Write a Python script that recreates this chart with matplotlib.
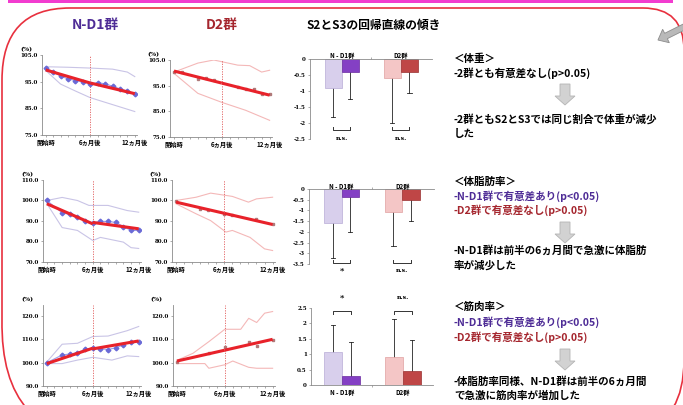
import matplotlib
matplotlib.use('Agg')
import matplotlib.pyplot as plt
import numpy as np
from matplotlib.path import Path
from matplotlib.patches import PathPatch, FancyArrow

plt.rcParams['font.family'] = ['Noto Sans CJK JP', 'DejaVu Sans']

W, H = 683, 405
fig = plt.figure(figsize=(6.83, 4.05), dpi=100)

# ---------------- data ----------------
month_labels = ['開始時', '6ヵ月後', '12ヵ月後']

# Row 1: 体重 (body weight, % of start)
w_nd1_m = [0, 1, 2, 3, 4, 5, 6, 7, 8, 9, 10, 11, 12]
w_nd1_v = [100, 98.8, 97.0, 96.1, 95.4, 95.0, 94.2, 94.6, 94.2, 93.3, 92.3, 91.5, 90.4]
w_nd1_up_m = [0, 3, 6, 9, 11, 12]
w_nd1_up_v = [100.6, 100.4, 100.1, 99.7, 98.6, 96.9]
w_nd1_lo_m = [0, 2, 4, 6, 9, 12]
w_nd1_lo_v = [99.2, 94.1, 91.5, 89.0, 86.4, 83.8]
w_nd1_reg_m = [[0, 6], [6, 12]]
w_nd1_reg_v = [[99.4, 94.5], [94.5, 90.5]]

w_d2_m = [0, 1, 3, 4, 5, 8, 9, 10, 11, 12]
w_d2_v = [100.5, 100.2, 97.6, 97.8, 97.2, 94.4, 93.6, 93.8, 91.6, 91.6]
w_d2_up_m = [0, 3, 5, 8, 9.5, 11, 12]
w_d2_up_v = [100.3, 103.8, 105.0, 103.0, 102.8, 100.3, 101.0]
w_d2_lo_m = [0, 3, 6, 9, 12]
w_d2_lo_v = [99.8, 92.0, 88.5, 85.4, 81.5]
w_d2_reg_m = [[0, 6], [6, 12]]
w_d2_reg_v = [[100.7, 96.0], [96.0, 91.3]]

# Row 2: 体脂肪率 (body fat)
f_nd1_m = [0, 2, 3, 4, 5, 6, 7, 8, 9, 10, 11, 12]
f_nd1_v = [100, 94.0, 93.2, 91.9, 90.2, 89.0, 89.8, 89.8, 89.3, 87.3, 85.4, 85.4]
f_nd1_up_m = [0, 2, 4, 5.5, 8, 10.5, 12]
f_nd1_up_v = [100, 101.5, 100, 97.6, 97.6, 95.1, 94.3]
f_nd1_lo_m = [0, 2, 4, 6, 7, 10, 11, 12]
f_nd1_lo_v = [98.5, 86.8, 85.4, 80.5, 82.0, 79.7, 77.0, 76.6]
f_nd1_reg_m = [[0, 6], [6, 12]]
f_nd1_reg_v = [[98.4, 88.6], [89.3, 86.2]]

f_d2_m = [0, 3, 4, 6, 7, 10, 12]
f_d2_v = [99.7, 95.9, 95.6, 93.2, 92.7, 91.2, 88.6]
f_d2_up_m = [0, 2.5, 4.3, 7, 9, 10, 12]
f_d2_up_v = [100, 101.6, 103.6, 102, 99.2, 100.8, 101.6]
f_d2_lo_m = [0, 2.5, 4.3, 6.2, 7, 9.2, 11, 12]
f_d2_lo_v = [98.4, 93.5, 90.2, 84.6, 85.4, 82.0, 76.4, 75.6]
f_d2_reg_m = [[0, 6], [6, 12]]
f_d2_reg_v = [[99.2, 93.75], [93.75, 88.3]]

# Row 3: 筋肉率 (muscle)
m_nd1_m = [0, 2, 3, 4, 5, 6, 7, 8, 9, 10, 11, 12]
m_nd1_v = [100, 103.3, 103.7, 104.3, 105.7, 106.2, 106.0, 105.6, 106.4, 107.6, 109.0, 109.0]
m_nd1_up_m = [0, 2, 4, 6, 8, 10.5, 12]
m_nd1_up_v = [100.3, 107.9, 108.3, 111.2, 111.4, 113.7, 115.5]
m_nd1_lo_m = [0, 2, 4, 6, 8.5, 10.5, 12]
m_nd1_lo_v = [99.6, 99.6, 101.1, 102.3, 101.1, 102.9, 102.6]
m_nd1_reg_m = [[0, 6], [6, 12]]
m_nd1_reg_v = [[99.6, 106.2], [105.9, 109.3]]

m_d2_m = [0, 4, 6, 9, 10, 12]
m_d2_v = [100.4, 104.0, 106.9, 109.0, 107.1, 109.7]
m_d2_up_m = [0, 2, 4, 6, 8, 9, 10, 11, 12]
m_d2_up_v = [101, 104, 109, 114.3, 114.3, 119, 117.2, 121.2, 121.9]
m_d2_lo_m = [0, 3.5, 4, 6, 7, 9, 10, 12]
m_d2_lo_v = [99.6, 99.6, 97.6, 99.1, 100.7, 98.0, 97.6, 97.6]
m_d2_reg_m = [[0, 6], [6, 12]]
m_d2_reg_v = [[100.7, 105.35], [105.35, 110.0]]

# Bar charts: slopes (S2 light, S3 dark) for N-D1 and D2
bar_groups = ['N - D1群', 'D2群']
w_slope = [-0.9, -0.4, -0.6, -0.4]
w_sd = [0.9, 0.85, 1.4, 0.65]
f_slope = [-1.6, -0.35, -1.05, -0.5]
f_sd = [1.6, 1.65, 1.6, 1.0]
m_slope = [1.07, 0.28, 0.9, 0.47]
m_sd = [0.88, 1.1, 1.25, 1.0]
w_sig = ['n.s.', 'n.s.']
f_sig = ['*', 'n.s.']
m_sig = ['*', 'n.s.']

# ---------------- helpers ----------------
def px_axes(x0, y0, x1, y1, z=1):
    ax = fig.add_axes([x0 / W, 1 - y1 / H, (x1 - x0) / W, (y1 - y0) / H])
    ax.set_facecolor('none')
    ax.set_zorder(z)
    return ax

TICKFONT = dict(family='DejaVu Serif', weight='bold', size=4)

def line_panel(box, ylim, yticks, pm, pv, um, uv, lm, lv, rm, rv, group):
    ax = px_axes(*box)
    ax.set_xlim(-0.5, 12.3)
    ax.set_ylim(*ylim)
    for s in ['top', 'right']:
        ax.spines[s].set_visible(False)
    for s in ['left', 'bottom']:
        ax.spines[s].set_color('#8a8a8a')
        ax.spines[s].set_linewidth(0.6)
    ax.set_yticks(yticks)
    ax.set_yticklabels([f'{v:.1f}' for v in yticks], **TICKFONT)
    ax.set_xticks([0, 6, 12])
    ax.set_xticklabels(month_labels, fontsize=4.5, weight='bold')
    ax.set_xticks(range(13), minor=True)
    ax.tick_params(axis='both', which='both', length=1.5, width=0.5, color='#8a8a8a', pad=1.5)
    if group == 'nd1':
        rc, pc, lc = '#c9c4e6', '#6a6ad6', '#9c9ce8'
    else:
        rc, pc, lc = '#f4b8b8', '#b07878', '#e8b0b0'
    ax.plot(um, uv, color=rc, lw=0.8)
    ax.plot(lm, lv, color=rc, lw=0.8)
    ax.axvline(6, color='#e05a5a', ls=(0, (1.5, 1.5)), lw=0.6)
    if group == 'nd1':
        ax.plot(pm, pv, color=lc, lw=0.8, marker='D', ms=2.4, mfc=pc, mec=pc)
    else:
        ax.plot(pm, pv, ls='none', marker='s', ms=1.8, mfc=pc, mec=pc)
    for m, v in zip(rm, rv):
        ax.plot(m, v, color='#e8222a', lw=2.2, solid_capstyle='butt')
    ax.text(-0.16, 1.07, '(%)', transform=ax.transAxes, fontsize=4.5, weight='bold',
            ha='center', va='center', family='DejaVu Serif')
    return ax

bar_colors = ['#d8cfec', '#8440c4', '#f4c6c6', '#bf4646']
bar_edges = ['#b8acd6', '#6a2aa0', '#e0a0a0', '#993030']

def bar_panel(box, ylim, yticks, vals, sds, sig, positive, pos, width, sig_y, bracket_y, leg, label_y):
    ax = px_axes(*box)
    ax.set_xlim(0, 2)
    ax.set_ylim(*ylim)
    ax.spines['right'].set_visible(False)
    if positive:
        ax.spines['top'].set_visible(False)
    else:
        ax.spines['bottom'].set_visible(False)
    for s in ['left', 'top', 'bottom']:
        ax.spines[s].set_color('#8a8a8a')
        ax.spines[s].set_linewidth(0.6)
    ax.set_yticks(yticks)
    ax.set_yticklabels([f'{v:g}' for v in yticks], **TICKFONT)
    ax.set_xticks([1.0])
    ax.set_xticklabels([''])
    if not positive:
        ax.xaxis.tick_top()
    ax.tick_params(length=1.5, width=0.5, color='#8a8a8a', pad=1.5)
    for i in range(4):
        ax.bar(pos[i], vals[i], width=width, color=bar_colors[i], edgecolor=bar_edges[i], lw=0.5, zorder=2)
        end = vals[i] + (sds[i] if positive else -sds[i])
        ax.plot([pos[i], pos[i]], [vals[i], end], color='#222222', lw=0.6, zorder=1)
        ax.plot([pos[i] - 0.035, pos[i] + 0.035], [end, end], color='#222222', lw=0.6, zorder=1)
    for g in range(2):
        xa, xb = pos[2 * g], pos[2 * g + 1]
        ax.plot([xa, xa, xb, xb], [bracket_y + leg, bracket_y, bracket_y, bracket_y + leg],
                color='#333333', lw=0.7, clip_on=False)
        txt = sig[g]
        ax.text((xa + xb) / 2, sig_y, txt, ha='center', va='center', fontsize=4.5 if txt != '*' else 6,
                weight='bold', family='DejaVu Serif', clip_on=False)
        ax.text((xa + xb) / 2, label_y, bar_groups[g], ha='center', va='center',
                fontsize=4.5, weight='bold', clip_on=False)
    return ax

# ---------------- background / frame ----------------
bg = fig.add_axes([0, 0, 1, 1])
bg.set_xlim(0, W)
bg.set_ylim(H, 0)
bg.axis('off')
bg.set_zorder(0)

bg.fill_between([8, 673], [0, 0], [3, 3], color='#f23ccf', lw=0)

verts = [(70, 8), (643, 8), (684, 8), (684, 50), (684, 360),
         (684, 420), (640, 432), (110, 440), (0, 440), (2, 320),
         (2, 80), (2, 8), (70, 8)]
codes = [Path.MOVETO, Path.LINETO, Path.CURVE3, Path.CURVE3, Path.LINETO,
         Path.CURVE3, Path.CURVE3, Path.MOVETO, Path.CURVE3, Path.CURVE3,
         Path.LINETO, Path.CURVE3, Path.CURVE3]
bg.add_patch(PathPatch(Path(verts, codes), fc='none', ec='#e8303e', lw=1.2))

bg.add_patch(FancyArrow(686, 26, -20, 10, width=6, head_width=15, head_length=9,
                        length_includes_head=False, fc='#b9b9b9', ec='#8c8c8c', lw=0.6, zorder=5))

# titles
bg.text(95, 25, 'N-D1群', color='#4e2c96', fontsize=10, weight='bold', ha='center', va='center',
        family=['Noto Sans CJK JP'])
bg.text(222, 25, 'D2群', color='#a5262e', fontsize=10, weight='bold', ha='center', va='center')
bg.text(374, 25, 'S2とS3の回帰直線の傾き', color='black', fontsize=8.5, weight='bold',
        ha='center', va='center')

# right side texts
tx = 454
purple = '#4e2c96'
red = '#a5262e'
right_texts = [
    (59, '＜体重＞', 'black'),
    (73, '-2群とも有意差なし(p>0.05)', 'black'),
    (119, '-2群ともS2とS3では同じ割合で体重が減少', 'black'),
    (134, 'した', 'black'),
    (182, '＜体脂肪率＞', 'black'),
    (196, '-N-D1群で有意差あり(p<0.05)', purple),
    (210, '-D2群で有意差なし(p>0.05)', red),
    (250, '-N-D1群は前半の6ヵ月間で急激に体脂肪', 'black'),
    (265, '率が減少した', 'black'),
    (307, '＜筋肉率＞', 'black'),
    (322, '-N-D1群で有意差あり(p<0.05)', purple),
    (337, '-D2群で有意差なし(p>0.05)', red),
    (381, '-体脂肪率同様、N-D1群は前半の6ヵ月間', 'black'),
    (396, 'で急激に筋肉率が増加した', 'black'),
]
for y, s, c in right_texts:
    bg.text(tx, y, s, color=c, fontsize=7.6, weight='bold', ha='left', va='center')

for y0 in [84, 222, 349]:
    bg.add_patch(FancyArrow(565, y0, 0, 12, width=10, head_width=20, head_length=9,
                            fc='#d2d2d2', ec='#b4b4b4', lw=0.6))

# ---------------- line charts ----------------
line_panel((42, 55, 137, 135), (75, 105), [75, 85, 95, 105], w_nd1_m, w_nd1_v,
           w_nd1_up_m, w_nd1_up_v, w_nd1_lo_m, w_nd1_lo_v, w_nd1_reg_m, w_nd1_reg_v, 'nd1')
line_panel((170, 60, 272, 137), (75, 105), [75, 85, 95, 105], w_d2_m, w_d2_v,
           w_d2_up_m, w_d2_up_v, w_d2_lo_m, w_d2_lo_v, w_d2_reg_m, w_d2_reg_v, 'd2')
line_panel((43, 180, 141, 262), (70, 110), [70, 80, 90, 100, 110], f_nd1_m, f_nd1_v,
           f_nd1_up_m, f_nd1_up_v, f_nd1_lo_m, f_nd1_lo_v, f_nd1_reg_m, f_nd1_reg_v, 'nd1')
line_panel((172, 180, 275, 262), (70, 110), [70, 80, 90, 100, 110], f_d2_m, f_d2_v,
           f_d2_up_m, f_d2_up_v, f_d2_lo_m, f_d2_lo_v, f_d2_reg_m, f_d2_reg_v, 'd2')
line_panel((43, 305, 141, 386), (90, 124.7), [90, 100, 110, 120], m_nd1_m, m_nd1_v,
           m_nd1_up_m, m_nd1_up_v, m_nd1_lo_m, m_nd1_lo_v, m_nd1_reg_m, m_nd1_reg_v, 'nd1')
line_panel((173, 305, 275, 386), (90, 124.7), [90, 100, 110, 120], m_d2_m, m_d2_v,
           m_d2_up_m, m_d2_up_v, m_d2_lo_m, m_d2_lo_v, m_d2_reg_m, m_d2_reg_v, 'd2')

# ---------------- bar charts ----------------
pos_a = [0.38, 0.66, 1.35, 1.63]
bar_panel((310, 59, 432, 139), (-2.5, 0), [0, -0.5, -1, -1.5, -2, -2.5], w_slope, w_sd, w_sig,
          False, pos_a, 0.28, -2.47, -2.22, 0.1, 0.1)
bar_panel((309, 189, 434, 264), (-3.5, 0), [0, -0.5, -1, -1.5, -2, -2.5, -3, -3.5], f_slope, f_sd, f_sig,
          False, pos_a, 0.28, -3.8, -3.45, 0.12, 0.12)
bar_panel((311, 308, 433, 385), (0, 2.5), [0, 0.5, 1, 1.5, 2, 2.5], m_slope, m_sd, m_sig,
          True, [0.36, 0.66, 1.36, 1.66], 0.3, 2.85, 2.4, -0.08, -0.25)

fig.savefig('out.png', dpi=100)
